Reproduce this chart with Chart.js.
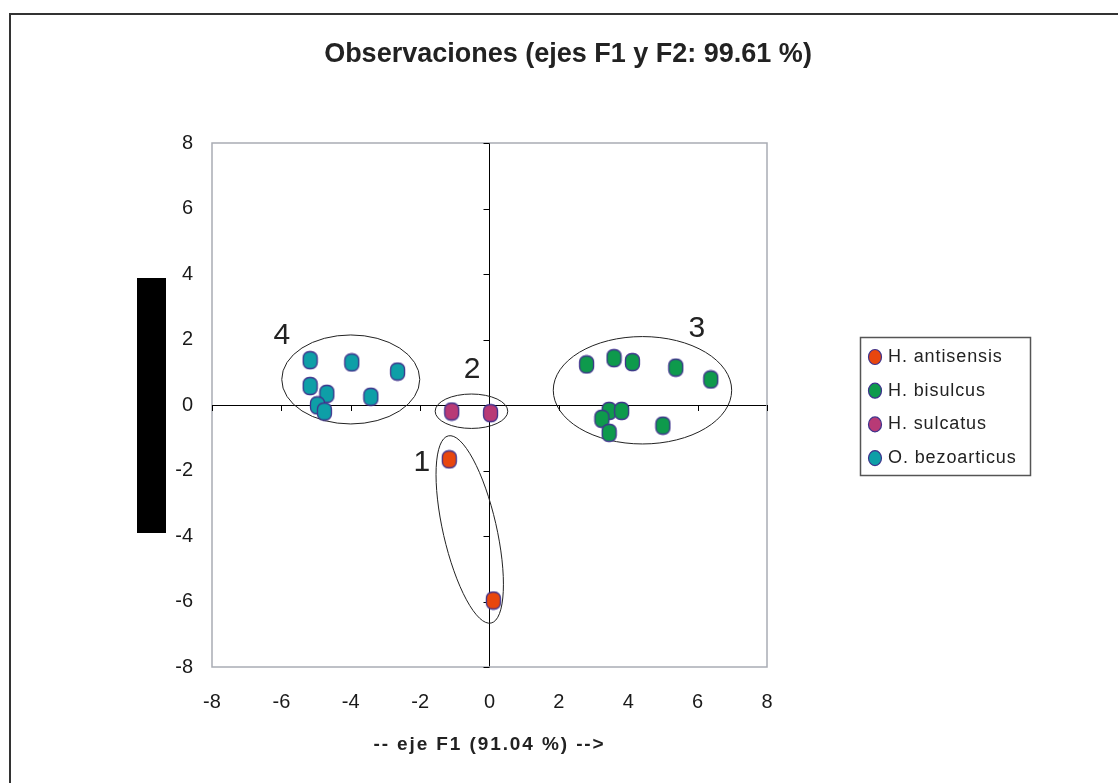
<!DOCTYPE html>
<html>
<head>
<meta charset="utf-8">
<script src="https://cdn.jsdelivr.net/npm/chart.js@4.4.1/dist/chart.umd.min.js"></script>
<style>
  html,body{margin:0;padding:0;background:#fff;}
  #wrap{width:1118px;height:783px;}
</style>
</head>
<body>
<div id="wrap"><canvas id="obsChart" width="1118" height="783"></canvas></div>
<script>
// ----- Datos -----
const titleText = 'Observaciones (ejes F1 y F2: 99.61 %)';
const xTitle = '-- eje F1 (91.04 %) -->';
const axisTicks = [-8,-6,-4,-2,0,2,4,6,8];

const species = ['H. antisensis','H. bisulcus','H. sulcatus','O. bezoarticus'];

const antisensisX = [-1.16, 0.11];
const antisensisY = [-1.66, -5.97];

const bisulcusX = [2.80, 3.59, 4.12, 5.37, 6.38, 3.45, 3.81, 3.24, 3.45, 5.00];
const bisulcusY = [1.24, 1.43, 1.31, 1.14, 0.78, -0.18, -0.18, -0.42, -0.85, -0.63];

const sulcatusX = [-1.09, 0.03];
const sulcatusY = [-0.20, -0.25];

const bezoarticusX = [-5.17, -3.97, -2.65, -5.17, -4.69, -3.42, -4.96, -4.76];
const bezoarticusY = [1.37, 1.30, 1.02, 0.58, 0.34, 0.25, -0.01, -0.20];

// grupos: etiqueta y elipse (centro en unidades de los ejes)
const groupNames = ['1','2','3','4'];
const groupLabelX = [-1.95, -0.50, 5.98, -5.99];
const groupLabelY = [-1.76, 1.07, 2.32, 2.12];
const groupCenterX = [-0.57, -0.52, 4.41, -4.00];
const groupCenterY = [-3.80, -0.19, 0.45, 0.78];

// ----- Estilos -----
const colors = ['#e8460e','#0e9a4c','#b83a76','#0e9fa7'];
const edge = '#3f338c';
const ellipseSize = [ {rx:26.7, ry:96, rot:-0.225}, {rx:36.3, ry:17.2, rot:0}, {rx:89.2, ry:53.7, rot:0}, {rx:69, ry:44.5, rot:0} ];
const FONT = '"Liberation Sans", Arial, sans-serif';

function marker(color){
  const c = document.createElement('canvas');
  c.width = 17; c.height = 20;
  const g = c.getContext('2d');
  g.beginPath();
  g.roundRect(1.5, 1.5, 14, 17, 6);
  g.fillStyle = color; g.fill();
  g.lineWidth = 1.3; g.strokeStyle = edge; g.stroke();
  return c;
}

function pts(xs, ys){ return xs.map((x,i)=>({x, y: ys[i]})); }

const seriesX = [antisensisX, bisulcusX, sulcatusX, bezoarticusX];
const seriesY = [antisensisY, bisulcusY, sulcatusY, bezoarticusY];

const datasets = species.map((name,i)=>({
  label: name,
  data: pts(seriesX[i], seriesY[i]),
  pointStyle: marker(colors[i]),
  backgroundColor: colors[i],
  borderColor: edge
}));

// ----- Plugin: marco, ejes en cero, elipses, leyenda -----
const decor = {
  id: 'decor',
  beforeDraw(chart){
    const ctx = chart.ctx;
    ctx.save();
    ctx.fillStyle = '#fff';
    ctx.fillRect(0,0,chart.width,chart.height);
    // borde exterior
    ctx.strokeStyle = '#333'; ctx.lineWidth = 2;
    ctx.beginPath();
    ctx.moveTo(10, chart.height); ctx.lineTo(10, 14); ctx.lineTo(chart.width, 14);
    ctx.stroke();
    // bloque negro (título eje vertical)
    ctx.fillStyle = '#000';
    ctx.fillRect(137, 278, 29, 255);
    ctx.restore();
  },
  beforeDatasetsDraw(chart){
    const {ctx, chartArea:a, scales:{x, y}} = chart;
    ctx.save();
    ctx.strokeStyle = '#a9acb4'; ctx.lineWidth = 1.5;
    ctx.strokeRect(a.left, a.top, a.right-a.left, a.bottom-a.top);
    // marcas sobre los ejes en cero
    const x0 = x.getPixelForValue(0), y0 = y.getPixelForValue(0);
    ctx.strokeStyle = '#000'; ctx.lineWidth = 1;
    ctx.beginPath();
    axisTicks.forEach(v=>{
      const px = Math.round(x.getPixelForValue(v))+0.5;
      ctx.moveTo(px, y0); ctx.lineTo(px, y0+6);
      const py = Math.round(y.getPixelForValue(v))+0.5;
      ctx.moveTo(x0-6, py); ctx.lineTo(x0, py);
    });
    ctx.stroke();
    // elipses
    ctx.strokeStyle = '#222'; ctx.lineWidth = 1;
    groupNames.forEach((n,i)=>{
      const e = ellipseSize[i];
      ctx.beginPath();
      ctx.ellipse(x.getPixelForValue(groupCenterX[i]), y.getPixelForValue(groupCenterY[i]), e.rx, e.ry, e.rot, 0, Math.PI*2);
      ctx.stroke();
    });
    // números de grupo
    ctx.fillStyle = '#222';
    ctx.font = '30px ' + FONT;
    ctx.textAlign = 'center'; ctx.textBaseline = 'middle';
    groupNames.forEach((n,i)=>{
      ctx.fillText(n, x.getPixelForValue(groupLabelX[i]), y.getPixelForValue(groupLabelY[i]));
    });
    // título del eje X (espaciado ancho como en el original)
    ctx.font = 'bold 19px ' + FONT;
    ctx.letterSpacing = '1.9px';
    ctx.fillText(xTitle, (a.left + a.right)/2, 745);
    ctx.restore();
  },
  afterDraw(chart){
    const ctx = chart.ctx;
    ctx.save();
    ctx.strokeStyle = '#555'; ctx.lineWidth = 1.5;
    ctx.strokeRect(860.5, 337.5, 170, 138);
    ctx.font = '18px ' + FONT;
    ctx.letterSpacing = '0.9px';
    ctx.textAlign = 'left'; ctx.textBaseline = 'middle';
    chart.data.datasets.forEach((ds,i)=>{
      const cy = 357 + i*33.7;
      ctx.beginPath();
      ctx.ellipse(875, cy, 6.5, 7.5, 0, 0, Math.PI*2);
      ctx.fillStyle = ds.backgroundColor; ctx.fill();
      ctx.lineWidth = 1.2; ctx.strokeStyle = edge; ctx.stroke();
      ctx.fillStyle = '#222';
      ctx.fillText(ds.label, 888, cy);
    });
    ctx.restore();
  }
};

const zeroLine = c => c.tick && c.tick.value === 0 ? '#000' : 'rgba(0,0,0,0)';

new Chart(document.getElementById('obsChart'), {
  type: 'scatter',
  data: { datasets },
  plugins: [decor],
  options: {
    responsive: false,
    animation: false,
    layout: { padding: { left: 18, right: 0, top: 0, bottom: 29 } },
    elements: { point: { radius: 8, hoverRadius: 8 } },
    plugins: {
      legend: { display: false },
      tooltip: { enabled: false },
      title: {
        display: true, text: titleText, color: '#222',
        font: { family: FONT, size: 27, weight: 'bold', lineHeight: 1.2 },
        padding: { top: 38, bottom: 72.6 }
      }
    },
    scales: {
      x: {
        type: 'linear', min: -8, max: 8,
        afterBuildTicks: s => { s.ticks = axisTicks.map(v=>({value:v})); },
        grid: { color: zeroLine, drawTicks: false, lineWidth: 1 },
        border: { display: false },
        ticks: { color: '#1a1a1a', font: { family: FONT, size: 20 }, padding: 23 },
        afterFit: s => { s.height = 87; }
      },
      y: {
        type: 'linear', min: -8, max: 8,
        afterBuildTicks: s => { s.ticks = axisTicks.map(v=>({value:v})); },
        grid: { color: zeroLine, drawTicks: false, lineWidth: 1 },
        border: { display: false },
        ticks: { color: '#1a1a1a', font: { family: FONT, size: 20 }, padding: 19 },
        afterFit: s => { s.width = 194; }
      },
      yR: {
        type: 'linear', position: 'right', display: true,
        grid: { display: false, drawTicks: false },
        border: { display: false },
        ticks: { display: false },
        afterFit: s => { s.width = 351; }
      }
    }
  }
});
</script>
</body>
</html>
